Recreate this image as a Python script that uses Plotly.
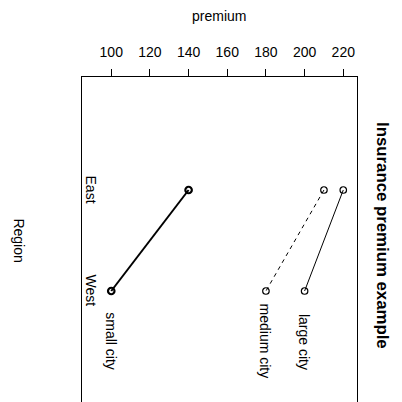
import plotly.graph_objects as go

regions = ["East", "West"]
cities = ["small city", "medium city", "large city"]
premium_small = [140, 100]
premium_medium = [210, 180]
premium_large = [220, 200]
x_ticks = [100, 120, 140, 160, 180, 200, 220]

series = [premium_small, premium_medium, premium_large]
widths = [2, 1, 1]
dashes = ["solid", "4px,4px", "solid"]

FONT = "Liberation Sans, Arial, Helvetica, sans-serif"
ypos = list(range(1, len(regions) + 1))

fig = go.Figure()
for name, vals, w, d in zip(cities, series, widths, dashes):
    fig.add_trace(go.Scatter(
        x=vals, y=ypos, mode="lines+markers", name=name,
        line=dict(color="black", width=w, dash=d),
        marker=dict(symbol="circle-open", size=6.5, color="black", line=dict(width=w + 0.2)),
        showlegend=False,
    ))

W, H = 402, 402
ml, mr, mt, mb = 81.5, 45, 77, 0
pw, ph = W - ml - mr, H - mt - mb


def px_x(x):
    return (x - ml) / pw


def px_y(y):
    return 1 - (y - mt) / ph


def ann(**kw):
    base = dict(showarrow=False, xanchor="center", yanchor="middle",
                font=dict(size=14, color="black", family=FONT))
    base.update(kw)
    return base


annotations = []
# category labels (rotated, inside the box)
for r, yp in zip(regions, ypos):
    annotations.append(ann(x=px_x(91), xref="paper", y=yp, yref="y", text=r, textangle=90))
# series labels under last point
for name, vals in zip(cities, series):
    annotations.append(ann(x=vals[-1], xref="x", y=ypos[-1] + 0.5, yref="y", text=name, textangle=90))
# category axis title
annotations.append(ann(x=px_x(18), xref="paper", y=px_y(240), yref="paper", text="Region", textangle=90))
# x axis title
annotations.append(ann(x=px_x(219), xref="paper", y=px_y(16), yref="paper", text="premium"))
# main title
annotations.append(ann(x=px_x(383), xref="paper", y=px_y(236), yref="paper",
                       text="<b>Insurance premium example</b>", textangle=90,
                       font=dict(size=16.8, color="black", family=FONT)))

fig.update_layout(
    width=W, height=H,
    margin=dict(l=ml, r=mr, t=mt, b=mb, pad=0, autoexpand=False),
    paper_bgcolor="white", plot_bgcolor="white",
    font=dict(family=FONT, size=14, color="black"),
    annotations=annotations,
    xaxis=dict(
        side="top", range=[84.87, 227.1], tickvals=x_ticks, ticktext=[str(v) for v in x_ticks],
        ticks="outside", ticklen=7, tickwidth=1, tickcolor="black",
        showline=True, linecolor="black", linewidth=1, mirror=False,
        showgrid=False, zeroline=False, automargin=False,
        tickfont=dict(size=14), ticklabelstandoff=6,
    ),
    yaxis=dict(
        range=[3.099, -0.119], showticklabels=False, ticks="",
        showline=True, linecolor="black", linewidth=1, mirror=True,
        showgrid=False, zeroline=False, automargin=False,
    ),
)

fig.write_html(
    "out.html",
    config={"displayModeBar": False},
    post_script="document.body.style.margin='0';document.body.style.padding='0';document.body.style.overflow='hidden';",
)
